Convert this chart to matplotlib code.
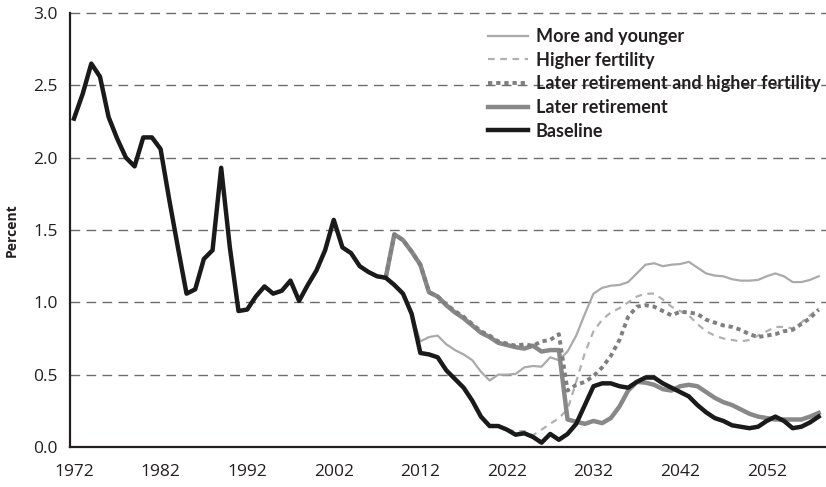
import matplotlib
matplotlib.use("Agg")
import matplotlib.pyplot as plt
import numpy as np

years_base = list(range(1972, 2059))
baseline = [2.27, 2.44, 2.65, 2.56, 2.28, 2.13, 2.00, 1.94, 2.14, 2.14,
            2.06, 1.71, 1.38, 1.06, 1.09, 1.30, 1.36, 1.93, 1.38, 0.94,
            0.95, 1.04, 1.11, 1.06, 1.08, 1.15, 1.01, 1.12, 1.22, 1.36,
            1.57, 1.38, 1.34, 1.25, 1.21, 1.18, 1.17, 1.12, 1.06, 0.92,
            0.65, 0.64, 0.62, 0.53, 0.47, 0.41, 0.32, 0.21, 0.145, 0.145,
            0.12, 0.085, 0.095, 0.07, 0.03, 0.09, 0.05, 0.09, 0.16, 0.29,
            0.42, 0.44, 0.44, 0.42, 0.41, 0.45, 0.48, 0.48, 0.44, 0.41,
            0.38, 0.35, 0.29, 0.24, 0.20, 0.18, 0.15, 0.14, 0.13, 0.14,
            0.18, 0.21, 0.18, 0.13, 0.14, 0.17, 0.21]

years_scen = list(range(2008, 2059))
later_retirement = [1.17, 1.47, 1.43, 1.35, 1.26, 1.07, 1.04, 0.98, 0.93, 0.89,
                    0.84, 0.79, 0.76, 0.72, 0.705, 0.69, 0.68, 0.70, 0.66, 0.67,
                    0.67, 0.19, 0.175, 0.16, 0.18, 0.165, 0.20, 0.28, 0.39, 0.45,
                    0.445, 0.43, 0.40, 0.39, 0.42, 0.43, 0.42, 0.38, 0.34, 0.31,
                    0.29, 0.26, 0.23, 0.21, 0.20, 0.19, 0.19, 0.19, 0.19, 0.21,
                    0.235]
later_ret_higher_fert = [1.17, 1.47, 1.43, 1.35, 1.26, 1.07, 1.04, 0.985, 0.94, 0.90,
                         0.85, 0.80, 0.77, 0.73, 0.715, 0.70, 0.71, 0.70, 0.73, 0.74,
                         0.78, 0.39, 0.43, 0.45, 0.49, 0.55, 0.63, 0.74, 0.90, 0.97,
                         0.98, 0.97, 0.94, 0.91, 0.935, 0.93, 0.92, 0.88, 0.86, 0.84,
                         0.83, 0.81, 0.78, 0.76, 0.77, 0.78, 0.80, 0.81, 0.85, 0.89,
                         0.95]
higher_fertility = [1.17, 1.12, 1.06, 0.92, 0.65, 0.64, 0.62, 0.53, 0.47, 0.41,
                    0.32, 0.21, 0.15, 0.14, 0.12, 0.11, 0.11, 0.08, 0.12, 0.16,
                    0.20, 0.26, 0.45, 0.65, 0.80, 0.88, 0.93, 0.96, 1.00, 1.04,
                    1.06, 1.06, 1.02, 0.97, 0.94, 0.91, 0.85, 0.80, 0.77, 0.75,
                    0.74, 0.73, 0.74, 0.77, 0.80, 0.83, 0.83, 0.82, 0.86, 0.91,
                    0.96]
more_younger = [1.17, 1.12, 1.06, 0.92, 0.73, 0.76, 0.77, 0.71, 0.67, 0.64,
                0.60, 0.52, 0.46, 0.50, 0.50, 0.505, 0.55, 0.56, 0.555, 0.62,
                0.60, 0.66, 0.77, 0.92, 1.06, 1.10, 1.115, 1.12, 1.14, 1.20,
                1.26, 1.27, 1.25, 1.26, 1.265, 1.28, 1.24, 1.20, 1.185, 1.18,
                1.16, 1.15, 1.15, 1.155, 1.18, 1.20, 1.18, 1.14, 1.14, 1.155,
                1.18]

labels = ["More and younger", "Higher fertility",
          "Later retirement and higher fertility", "Later retirement", "Baseline"]
xticks = [1972, 1982, 1992, 2002, 2012, 2022, 2032, 2042, 2052]
yticks = [0.0, 0.5, 1.0, 1.5, 2.0, 2.5, 3.0]

plt.rcParams['font.family'] = ['Open Sans', 'DejaVu Sans']

fig = plt.figure(figsize=(8.26, 4.87), dpi=100)
ax = fig.add_axes([70/826, 40/487, 1 - 70/826, (447-13)/487])

h1, = ax.plot(years_scen, more_younger, color='#aaaaaa', lw=1.6, zorder=3)
h2, = ax.plot(years_scen, higher_fertility, color='#b0b0b0', lw=1.6, zorder=3,
              linestyle=(0, (3, 2.5)))
h4, = ax.plot(years_scen, later_retirement, color='#888888', lw=3.2, zorder=4)
h3, = ax.plot(years_scen, later_ret_higher_fert, color='#7f7f7f', lw=2.8, zorder=4,
              linestyle=(0, (1.1, 1.0)))
h5, = ax.plot(years_base, baseline, color='#1a1a1a', lw=3.2, zorder=5)

ax.set_xlim(1971.54, 2058.85)
ax.set_ylim(0, 3.0)
ax.set_xticks(xticks)
ax.set_xticklabels([str(v) for v in xticks])
ax.set_yticks(yticks)
ax.set_yticklabels([f"{v:.1f}" for v in yticks])
ax.tick_params(axis='both', length=0, labelsize=12.5, colors='#231f20')
ax.tick_params(axis='y', pad=9)
ax.tick_params(axis='x', pad=12)

for y in yticks[1:]:
    ax.axhline(y, color='#6d6d6d', lw=1.0, linestyle=(0, (7, 4.5)), zorder=1,
               clip_on=False)

for s in ['top', 'right']:
    ax.spines[s].set_visible(False)
ax.spines['left'].set_linewidth(1.6)
ax.spines['bottom'].set_linewidth(1.6)
ax.spines['left'].set_color('#231f20')
ax.spines['bottom'].set_color('#231f20')

ax.set_ylabel("Percent", fontsize=10, fontweight='bold', color='#231f20', labelpad=10)

leg = fig.legend([h1, h2, h3, h4, h5], labels, loc='upper left',
                 bbox_to_anchor=(479/826, 1 - 19/487), frameon=False,
                 borderpad=0, handlelength=2.2, handletextpad=0.45,
                 labelspacing=0.37,
                 prop={'family': ['Lato', 'DejaVu Sans'],
                       'weight': 'bold', 'size': 13})
for t in leg.get_texts():
    t.set_color('#231f20')

fig.savefig("out.png", dpi=100)
